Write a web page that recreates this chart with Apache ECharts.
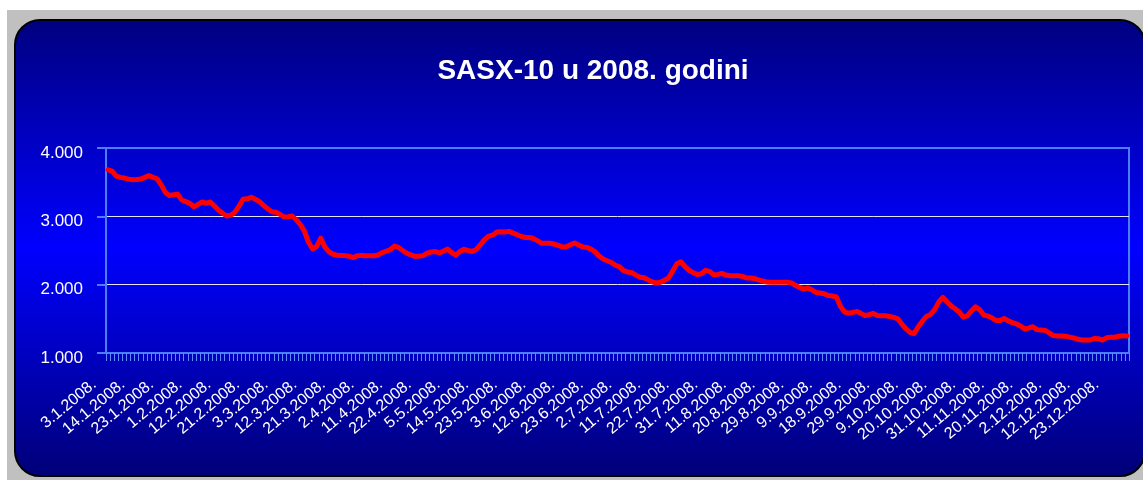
<!DOCTYPE html>
<html>
<head>
<meta charset="utf-8">
<script src="https://cdn.jsdelivr.net/npm/echarts@6/dist/echarts.min.js"></script>
<style>
  html, body { margin: 0; padding: 0; background: #fff; }
  #chart { width: 1143px; height: 480px; }
</style>
</head>
<body>
<div id="chart"></div>
<script>
// trading days of 2008 (d.m), one per category
const dates = [
  '3.1', '4.1', '7.1', '8.1', '9.1', '10.1', '11.1',
  '14.1', '15.1', '16.1', '17.1', '18.1', '21.1', '22.1',
  '23.1', '24.1', '25.1', '28.1', '29.1', '30.1', '31.1',
  '1.2', '4.2', '5.2', '6.2', '7.2', '8.2', '11.2',
  '12.2', '13.2', '14.2', '15.2', '18.2', '19.2', '20.2',
  '21.2', '22.2', '25.2', '26.2', '27.2', '28.2', '29.2',
  '3.3', '4.3', '5.3', '6.3', '7.3', '10.3', '11.3',
  '12.3', '13.3', '14.3', '17.3', '18.3', '19.3', '20.3',
  '21.3', '25.3', '26.3', '27.3', '28.3', '31.3', '1.4',
  '2.4', '3.4', '4.4', '7.4', '8.4', '9.4', '10.4',
  '11.4', '14.4', '15.4', '16.4', '17.4', '18.4', '21.4',
  '22.4', '23.4', '24.4', '25.4', '28.4', '29.4', '30.4',
  '5.5', '6.5', '7.5', '8.5', '9.5', '12.5', '13.5',
  '14.5', '15.5', '16.5', '19.5', '20.5', '21.5', '22.5',
  '23.5', '26.5', '27.5', '28.5', '29.5', '30.5', '2.6',
  '3.6', '4.6', '5.6', '6.6', '9.6', '10.6', '11.6',
  '12.6', '13.6', '16.6', '17.6', '18.6', '19.6', '20.6',
  '23.6', '24.6', '25.6', '26.6', '27.6', '30.6', '1.7',
  '2.7', '3.7', '4.7', '7.7', '8.7', '9.7', '10.7',
  '11.7', '14.7', '15.7', '16.7', '17.7', '18.7', '21.7',
  '22.7', '23.7', '24.7', '25.7', '28.7', '29.7', '30.7',
  '31.7', '1.8', '4.8', '5.8', '6.8', '7.8', '8.8',
  '11.8', '12.8', '13.8', '14.8', '15.8', '18.8', '19.8',
  '20.8', '21.8', '22.8', '25.8', '26.8', '27.8', '28.8',
  '29.8', '1.9', '2.9', '3.9', '4.9', '5.9', '8.9',
  '9.9', '10.9', '11.9', '12.9', '15.9', '16.9', '17.9',
  '18.9', '19.9', '22.9', '23.9', '24.9', '25.9', '26.9',
  '29.9', '30.9', '2.10', '3.10', '6.10', '7.10', '8.10',
  '9.10', '10.10', '13.10', '14.10', '15.10', '16.10', '17.10',
  '20.10', '21.10', '22.10', '24.10', '27.10', '28.10', '30.10',
  '31.10', '3.11', '4.11', '5.11', '6.11', '7.11', '10.11',
  '11.11', '12.11', '13.11', '14.11', '17.11', '18.11', '19.11',
  '20.11', '21.11', '24.11', '26.11', '27.11', '28.11', '1.12',
  '2.12', '3.12', '4.12', '5.12', '9.12', '10.12', '11.12',
  '12.12', '15.12', '16.12', '17.12', '18.12', '19.12', '22.12',
  '23.12', '24.12', '26.12', '29.12', '30.12'
];

// SASX-10 index values
const sasx10 = [
  3680, 3660, 3590, 3570, 3560, 3545, 3535, 3538, 3545, 3570,
  3595, 3570, 3550, 3460, 3350, 3305, 3315, 3325, 3240, 3215,
  3190, 3140, 3175, 3210, 3190, 3210, 3150, 3090, 3045, 3005,
  3015, 3060, 3150, 3250, 3256, 3278, 3250, 3215, 3160, 3110,
  3068, 3060, 3030, 2990, 2995, 3005, 2950, 2880, 2780, 2620,
  2522, 2560, 2680, 2550, 2480, 2445, 2430, 2428, 2425, 2415,
  2397, 2425, 2428, 2424, 2424, 2424, 2435, 2470, 2490, 2515,
  2565, 2545, 2500, 2459, 2435, 2415, 2415, 2425, 2462, 2480,
  2485, 2465, 2493, 2520, 2470, 2430, 2485, 2518, 2500, 2485,
  2515, 2585, 2660, 2710, 2725, 2770, 2775, 2772, 2780, 2755,
  2730, 2705, 2690, 2690, 2675, 2640, 2605, 2605, 2605, 2595,
  2575, 2552, 2555, 2585, 2610, 2580, 2553, 2545, 2520, 2482,
  2420, 2375, 2350, 2325, 2285, 2260, 2205, 2185, 2175, 2140,
  2108, 2100, 2070, 2040, 2025, 2035, 2065, 2100, 2200, 2305,
  2335, 2265, 2210, 2175, 2150, 2160, 2210, 2195, 2145, 2150,
  2165, 2140, 2132, 2132, 2132, 2120, 2098, 2098, 2090, 2070,
  2053, 2038, 2034, 2034, 2034, 2034, 2034, 2025, 1990, 1960,
  1935, 1950, 1925, 1885, 1878, 1868, 1840, 1834, 1820, 1680,
  1600, 1583, 1595, 1607, 1580, 1550, 1560, 1580, 1550, 1545,
  1545, 1535, 1522, 1500, 1420, 1355, 1300, 1285, 1385, 1465,
  1535, 1565, 1635, 1745, 1815, 1750, 1690, 1648, 1600, 1525,
  1545, 1615, 1675, 1635, 1555, 1542, 1515, 1475, 1475, 1505,
  1470, 1445, 1425, 1395, 1350, 1365, 1385, 1342, 1337, 1330,
  1295, 1255, 1249, 1249, 1245, 1232, 1220, 1200, 1190, 1190,
  1190, 1212, 1210, 1190, 1222, 1229, 1230, 1245, 1252, 1250
];

const yMin = 1000, yMax = 4000, yStep = 1000;
const axisBlue = '#4a7dff';
const font = 'Liberation Sans, Arial, sans-serif';

const chart = echarts.init(document.getElementById('chart'));

chart.setOption({
  animation: false,
  graphic: [
    { type: 'rect', z: -100, silent: true,
      shape: { x: 7, y: 10, width: 1136, height: 470 },
      style: { fill: '#c0c0c0' } },
    { type: 'rect', z: -99, silent: true,
      shape: { x: 15, y: 20, width: 1130, height: 456, r: 25 },
      style: {
        fill: new echarts.graphic.LinearGradient(0, 0, 0, 1, [
          { offset: 0, color: '#000080' },
          { offset: 0.5, color: '#0000ff' },
          { offset: 1, color: '#000078' }
        ]),
        stroke: '#000', lineWidth: 2
      } }
  ],
  title: {
    text: 'SASX-10 u 2008. godini',
    left: 588, top: 52, textAlign: 'center',
    textStyle: { color: '#fff', fontSize: 28, fontWeight: 'bold', fontFamily: font }
  },
  grid: {
    left: 106, right: 14, top: 148, bottom: 127,
    show: true, borderColor: axisBlue, borderWidth: 2, backgroundColor: 'transparent'
  },
  xAxis: {
    type: 'category',
    data: dates,
    boundaryGap: true,
    axisLine: { lineStyle: { color: axisBlue, width: 2 } },
    axisTick: { show: true, interval: 0, length: 8, lineStyle: { color: '#5b8bff', width: 1 } },
    axisLabel: {
      interval: 6, rotate: 40, color: '#fff', fontSize: 16, fontFamily: font,
      margin: 18, padding: [0, 18, 0, 0],
      formatter: v => v + '.2008.'
    }
  },
  yAxis: {
    type: 'value',
    min: yMin, max: yMax, interval: yStep,
    axisLine: { show: true, lineStyle: { color: axisBlue, width: 2 } },
    axisTick: { show: true, length: 9, lineStyle: { color: axisBlue, width: 2 } },
    splitLine: { lineStyle: { color: [axisBlue, '#e4e4ff', '#e4e4ff', axisBlue], width: 1 } },
    axisLabel: {
      color: '#fff', fontSize: 17, fontFamily: font, margin: 23,
      verticalAlign: 'top', lineHeight: 10,
      formatter: v => (v / 1000).toFixed(3)
    }
  },
  series: [{
    type: 'line',
    data: sasx10,
    symbol: 'none',
    lineStyle: { color: '#ff0000', width: 5, join: 'round', cap: 'round' }
  }]
});
</script>
</body>
</html>
